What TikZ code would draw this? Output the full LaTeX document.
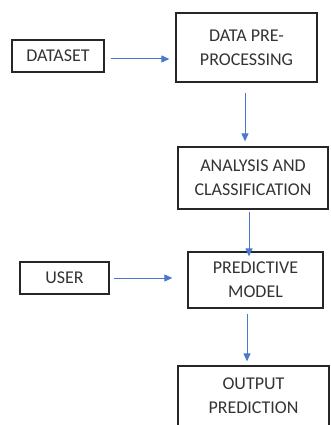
\documentclass[tikz,border=0pt]{standalone}
\usepackage{fontspec}
\setmainfont{Carlito}
\usetikzlibrary{arrows.meta}
\definecolor{arrblue}{HTML}{4A78CC}
\definecolor{txtgray}{HTML}{333333}
\tikzset{
  box/.style={draw=black!85, line width=1.3pt, text=txtgray, inner sep=0pt,
    align=center, font=\fontsize{18}{24}\selectfont},
  arr/.style={draw=arrblue, line width=1pt, -{Triangle[length=8pt,width=7pt]}}
}
\begin{document}
\begin{tikzpicture}[x=1pt,y=-1pt]
\useasboundingbox (0,0) rectangle (330,425);
\clip (0,0) rectangle (330,425);
\node[box, minimum width=92pt, minimum height=32pt] (ds) at (58,56) {DATASET};
\node[box, minimum width=141pt, minimum height=69pt] (dpp) at (246.5,47.5) {DATA PRE-\\PROCESSING};
\node[box, minimum width=150pt, minimum height=62pt] (ana) at (253,178) {ANALYSIS AND\\CLASSIFICATION};
\node[box, minimum width=89pt, minimum height=32pt] (user) at (64.5,278) {USER};
\node[box, minimum width=135pt, minimum height=56pt] (pm) at (255.5,280) {PREDICTIVE\\MODEL};
\node[box, minimum width=151pt, minimum height=90pt, text depth=0pt] (out) at (253.5,411) {};
\node[txtgray, font=\fontsize{18}{24}\selectfont, align=center] (outtxt) at (253.5,396) {OUTPUT\\PREDICTION};
\coordinate (c1) at (245,0);
\coordinate (c2) at (249,0);
\coordinate (c3) at (247,0);
\draw[arr, shorten <=6pt, shorten >=6pt] ([yshift=-3pt]ds.east) -- ([yshift=-3pt]ds.east -| dpp.west);
\draw[arr, shorten <=10pt, shorten >=5pt] (dpp.south -| c1) -- (ana.north -| c1);
\draw[arr, shorten <=2pt, shorten >=-5pt] (ana.south -| c2) -- (pm.north -| c2);
\draw[arr, shorten <=4pt, shorten >=15pt] (user.east) -- (user.east -| pm.west);
\draw[arr, shorten <=5pt, shorten >=4pt] (pm.south -| c3) -- (out.north -| c3);
\end{tikzpicture}
\end{document}
